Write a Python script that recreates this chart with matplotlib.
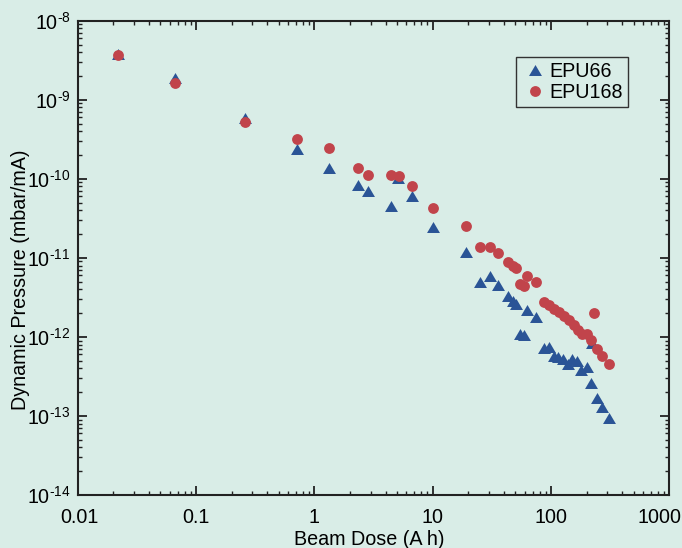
import matplotlib
matplotlib.use("Agg")
import matplotlib.pyplot as plt
import matplotlib.transforms as mtransforms
from matplotlib.ticker import FixedLocator, FixedFormatter, LogLocator, NullFormatter

plt.rcParams['font.family'] = ['Liberation Sans', 'DejaVu Sans']
plt.rcParams['mathtext.fontset'] = 'custom'
plt.rcParams['mathtext.rm'] = 'Liberation Sans'
plt.rcParams['mathtext.it'] = 'Liberation Sans'
plt.rcParams['mathtext.default'] = 'regular'

# EPU66 (blue triangles)
epu66_dose = [0.0218, 0.066, 0.26, 0.72, 1.34, 2.33, 2.84, 4.47, 5.1, 6.68, 10.0,
              19.3, 25.2, 30.8, 35.5, 43.5, 47.6, 50.9, 54.5, 58.9, 63.1, 74.9,
              87.1, 96.6, 106.6, 115.3, 126, 138, 151, 166, 180, 202, 218, 222,
              243, 270, 311]
epu66_pressure = [3.8e-9, 1.87e-9, 5.8e-10, 2.4e-10, 1.37e-10, 8.4e-11, 7.1e-11,
                  4.5e-11, 1.03e-10, 6.1e-11, 2.47e-11,
                  1.19e-11, 4.9e-12, 5.9e-12, 4.6e-12, 3.3e-12, 2.88e-12, 2.62e-12,
                  1.09e-12, 1.07e-12, 2.22e-12, 1.77e-12,
                  7.3e-13, 7.5e-13, 5.8e-13, 5.5e-13, 5.2e-13, 4.6e-13, 5.3e-13,
                  4.9e-13, 3.8e-13, 4.2e-13, 2.6e-13, 8.3e-13,
                  1.7e-13, 1.3e-13, 9.4e-14]

# EPU168 (red circles)
epu168_dose = [0.0218, 0.066, 0.26, 0.72, 1.34, 2.33, 2.84, 4.47, 5.15, 6.68, 10.0,
               19.3, 25.2, 30.8, 35.5, 43.5, 47.6, 51, 54.6, 58.9, 63.1, 75,
               87.1, 96, 106, 117, 129, 142, 155, 169, 184, 203, 219, 231,
               243, 270, 311]
epu168_pressure = [3.69e-9, 1.63e-9, 5.2e-10, 3.19e-10, 2.46e-10, 1.37e-10, 1.13e-10,
                   1.13e-10, 1.1e-10, 8.2e-11, 4.28e-11,
                   2.51e-11, 1.38e-11, 1.38e-11, 1.16e-11, 8.8e-12, 8.0e-12, 7.4e-12,
                   4.73e-12, 4.4e-12, 5.97e-12, 4.9e-12,
                   2.75e-12, 2.5e-12, 2.26e-12, 2.05e-12, 1.83e-12, 1.63e-12, 1.43e-12,
                   1.24e-12, 1.1e-12, 1.1e-12, 9.1e-13, 2.0e-12,
                   7.1e-13, 5.7e-13, 4.6e-13]

x_ticks = [0.01, 0.1, 1, 10, 100, 1000]
x_ticklabels = ["0.01", "0.1", "1", "10", "100", "1000"]
y_ticks = [1e-14, 1e-13, 1e-12, 1e-11, 1e-10, 1e-9, 1e-8]
y_ticklabels = [r"$10^{\text{-14}}$", r"$10^{\text{-13}}$", r"$10^{\text{-12}}$",
                r"$10^{\text{-11}}$", r"$10^{\text{-10}}$", r"$10^{\text{-9}}$",
                r"$10^{\text{-8}}$"]

bg = "#d9ede7"
blue = "#2a5496"
red = "#c1444b"

# slightly wide up-pointing triangle, like the reference markers
tri = [(0, 0.85), (-1, -0.85), (1, -0.85), (0, 0.85)]

fig = plt.figure(figsize=(6.82, 5.48), dpi=100, facecolor=bg)
ax = fig.add_axes([0.1139, 0.0967, 0.9814 - 0.1139, 0.9622 - 0.0967])
ax.set_facecolor(bg)

ax.plot(epu66_dose, epu66_pressure, linestyle='none', marker=tri, markersize=9.3,
        color=blue, markeredgewidth=0, label="EPU66", zorder=3)
ax.plot(epu168_dose, epu168_pressure, linestyle='none', marker='o', markersize=7.8,
        color=red, markeredgewidth=0, label="EPU168", zorder=4)

ax.set_xscale('log')
ax.set_yscale('log')
ax.set_xlim(0.01, 1000)
ax.set_ylim(1e-14, 1e-8)

ax.xaxis.set_major_locator(FixedLocator(x_ticks))
ax.xaxis.set_major_formatter(FixedFormatter(x_ticklabels))
ax.yaxis.set_major_locator(FixedLocator(y_ticks))
ax.yaxis.set_major_formatter(FixedFormatter(y_ticklabels))
ax.xaxis.set_minor_locator(LogLocator(base=10, subs=range(2, 10), numticks=20))
ax.yaxis.set_minor_locator(LogLocator(base=10, subs=range(2, 10), numticks=20))
ax.xaxis.set_minor_formatter(NullFormatter())
ax.yaxis.set_minor_formatter(NullFormatter())

ax.tick_params(which='both', direction='in', top=True, right=True, color='#222222')
ax.tick_params(which='major', length=6.5, width=1.3, labelsize=14.2)
ax.tick_params(axis='x', which='major', pad=9)
ax.tick_params(axis='y', which='major', pad=5)
ax.tick_params(which='minor', length=3.2, width=1.0)
for s in ax.spines.values():
    s.set_linewidth(1.5)
    s.set_color('#222222')

ax.set_xlabel("Beam Dose (A h)", fontsize=14.2)
ax.set_ylabel("Dynamic Pressure (mbar/mA)", fontsize=14.2)
ax.xaxis.set_label_coords(0.493, -0.074)
ax.yaxis.set_label_coords(-0.081, 0.454)

leg = ax.legend(loc='upper right', bbox_to_anchor=(628 / 682, 1 - 57 / 548),
                bbox_transform=fig.transFigure, fontsize=14.2, frameon=True,
                fancybox=False, edgecolor='#333333', facecolor=bg, framealpha=1,
                handletextpad=0.05, handlelength=1.4, borderpad=0.25,
                labelspacing=0.1, borderaxespad=0)
leg.get_frame().set_linewidth(1.0)

fig.canvas.draw()
# shift edge tick labels as in the reference
offsets = {"1000": -10, "0.01": 2}
for lab in ax.get_xticklabels():
    dx = offsets.get(lab.get_text())
    if dx:
        lab.set_transform(lab.get_transform() +
                          mtransforms.ScaledTranslation(dx / 100, 0, fig.dpi_scale_trans))

fig.savefig("out.png", dpi=100, facecolor=bg)
